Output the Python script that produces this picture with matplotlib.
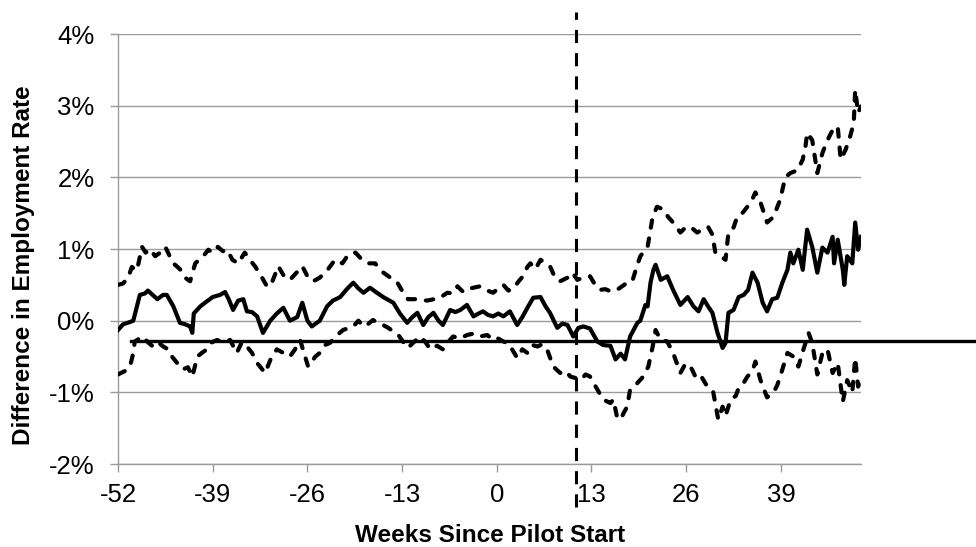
import matplotlib
matplotlib.use("Agg")
import matplotlib.pyplot as plt
from matplotlib.ticker import FuncFormatter

plt.rcParams["font.family"] = ["Liberation Sans", "DejaVu Sans"]
plt.rcParams["axes.unicode_minus"] = False

# Point estimate of the employment-rate gap (percentage points) by week
est_weeks = [-52.0, -51.3, -50.4, -49.9, -49.4, -49.0, -48.3, -47.9, -46.6, -45.8,
             -45.3, -44.4, -43.5, -42.8, -42.1, -41.8, -41.6, -40.7, -39.8, -39.0,
             -38.0, -37.3, -36.8, -36.2, -35.5, -34.8, -34.3, -33.6, -32.9, -32.1,
             -31.1, -30.2, -29.3, -28.4, -27.4, -26.7, -26.0, -25.4, -24.3, -23.3,
             -22.5, -21.5, -20.5, -19.7, -19.0, -18.3, -17.4, -16.6, -15.6, -14.2,
             -13.3, -12.3, -11.6, -10.9, -10.1, -9.4, -8.7, -8.0, -7.4, -6.4,
             -5.7, -5.0, -4.1, -3.2, -2.5, -1.9, -1.2, -0.5, 0.2, 0.9,
             1.8, 2.8, 3.5, 4.2, 5.0, 6.0, 6.7, 7.3, 8.3, 9.0,
             9.7, 10.5, 11.2, 11.9, 12.8, 13.8, 14.6, 15.6, 16.3, 17.0,
             17.6, 18.3, 19.3, 19.7, 20.4, 20.7, 21.1, 21.5, 21.8, 22.5,
             23.4, 24.2, 25.2, 26.2, 27.0, 27.7, 28.4, 29.0, 29.6, 30.3,
             31.0, 31.4, 31.8, 32.5, 33.2, 33.9, 34.5, 35.1, 35.8, 36.5,
             37.1, 37.8, 38.5, 39.2, 39.9, 40.3, 40.7, 41.4, 42.0, 42.6,
             43.3, 44.0, 44.7, 45.4, 46.1, 46.3, 46.8, 47.5, 47.7, 48.1,
             48.8, 49.2, 49.6, 50.0]
est_values = [-0.13, -0.05, -0.02, 0.00, 0.20, 0.36, 0.38, 0.42, 0.30, 0.36,
              0.36, 0.20, -0.03, -0.05, -0.08, -0.17, 0.10, 0.20, 0.27, 0.33,
              0.36, 0.40, 0.30, 0.15, 0.28, 0.30, 0.13, 0.12, 0.06, -0.17,
              0.00, 0.10, 0.18, 0.00, 0.05, 0.25, 0.00, -0.08, 0.00, 0.20,
              0.28, 0.33, 0.45, 0.53, 0.45, 0.39, 0.46, 0.40, 0.33, 0.25,
              0.10, -0.03, 0.05, 0.11, -0.06, 0.05, 0.11, 0.00, -0.06, 0.15,
              0.12, 0.15, 0.22, 0.06, 0.10, 0.13, 0.08, 0.06, 0.10, 0.06,
              0.13, -0.06, 0.05, 0.18, 0.32, 0.33, 0.20, 0.11, -0.10, -0.04,
              -0.06, -0.22, -0.10, -0.08, -0.11, -0.29, -0.34, -0.35, -0.54, -0.46,
              -0.54, -0.22, -0.03, 0.00, 0.22, 0.20, 0.53, 0.71, 0.78, 0.57,
              0.62, 0.43, 0.22, 0.33, 0.20, 0.13, 0.30, 0.20, 0.11, -0.17,
              -0.38, -0.31, 0.11, 0.15, 0.33, 0.36, 0.43, 0.67, 0.53, 0.25,
              0.13, 0.30, 0.32, 0.53, 0.71, 0.95, 0.80, 0.99, 0.71, 1.27,
              1.03, 0.67, 1.02, 0.95, 1.17, 0.80, 1.13, 0.71, 0.50, 0.90,
              0.80, 1.37, 0.99, 1.17]

# Upper confidence bound
upper_weeks = [-52.0, -51.3, -50.6, -50.1, -49.4, -48.7, -48.2, -47.6, -46.9, -46.2,
               -45.5, -44.9, -44.4, -43.5, -42.8, -42.1, -41.4, -40.3, -39.6, -39.0,
               -38.3, -37.6, -37.0, -36.3, -35.5, -34.6, -33.9, -33.2, -32.5, -31.5,
               -30.8, -30.0, -29.2, -28.4, -27.4, -26.7, -25.9, -25.2, -24.3, -23.3,
               -22.2, -21.2, -20.4, -19.4, -18.5, -17.7, -16.7, -15.7, -14.6, -13.7,
               -12.9, -12.2, -10.9, -9.6, -8.6, -7.8, -6.8, -6.1, -5.4, -4.6,
               -3.65, -2.3, -1.3, -0.5, 0.2, 0.9, 1.6, 2.3, 3.0, 3.6,
               4.2, 4.6, 5.3, 6.0, 6.7, 7.3, 8.0, 8.7, 9.7, 10.4,
               11.05, 11.9, 12.8, 13.5, 14.2, 14.9, 15.6, 16.5, 17.2, 17.9,
               18.6, 19.2, 19.7, 20.4, 20.7, 21.4, 22.0, 22.9, 23.5, 24.2,
               25.2, 25.9, 26.6, 27.5, 28.2, 29.0, 29.6, 30.0, 30.7, 31.4,
               31.8, 32.5, 33.0, 33.7, 34.4, 35.1, 35.5, 36.2, 37.1, 38.0,
               38.9, 39.6, 40.3, 41.3, 42.0, 42.4, 42.6, 43.3, 44.0, 44.7,
               45.4, 46.1, 46.8, 47.2, 47.9, 48.5, 49.0, 49.2, 49.6, 50.0]
upper_values = [0.50, 0.52, 0.60, 0.75, 0.70, 1.03, 0.95, 1.00, 0.90, 0.95,
                1.03, 0.90, 0.80, 0.72, 0.60, 0.55, 0.80, 0.90, 0.99, 0.95,
                1.03, 0.97, 0.99, 0.85, 0.80, 0.95, 0.85, 0.76, 0.65, 0.47,
                0.55, 0.76, 0.62, 0.57, 0.68, 0.76, 0.60, 0.55, 0.60, 0.70,
                0.85, 0.80, 0.92, 0.95, 0.85, 0.80, 0.80, 0.68, 0.60, 0.54,
                0.40, 0.30, 0.30, 0.28, 0.30, 0.32, 0.39, 0.38, 0.48, 0.40,
                0.45, 0.48, 0.42, 0.39, 0.45, 0.50, 0.42, 0.45, 0.55, 0.62,
                0.75, 0.80, 0.72, 0.85, 0.80, 0.76, 0.60, 0.55, 0.60, 0.67,
                0.57, 0.60, 0.62, 0.50, 0.43, 0.44, 0.41, 0.43, 0.48, 0.53,
                0.55, 0.75, 0.90, 0.99, 1.03, 1.45, 1.59, 1.55, 1.45, 1.37,
                1.23, 1.30, 1.31, 1.23, 1.27, 1.31, 1.20, 0.95, 0.90, 0.85,
                1.23, 1.30, 1.45, 1.50, 1.59, 1.70, 1.79, 1.65, 1.37, 1.45,
                1.69, 2.00, 2.06, 2.10, 2.25, 2.45, 2.62, 2.52, 2.06, 2.34,
                2.52, 2.66, 2.71, 2.25, 2.39, 2.57, 2.76, 3.22, 2.90, 2.99]

# Lower confidence bound
lower_weeks = [-52.0, -51.0, -50.35, -49.9, -49.7, -48.6, -47.9, -47.2, -46.5, -45.8,
               -45.1, -44.6, -43.8, -43.1, -42.4, -41.8, -41.1, -40.5, -39.8, -39.1,
               -38.4, -37.6, -36.6, -35.7, -35.0, -34.3, -33.6, -32.9, -31.8, -31.1,
               -30.2, -29.3, -28.4, -27.7, -27.0, -25.9, -24.9, -24.3, -23.6, -22.9,
               -21.9, -21.1, -19.7, -19.0, -18.3, -17.7, -17.0, -16.3, -15.6, -14.9,
               -14.2, -13.5, -12.9, -12.2, -11.4, -10.5, -9.8, -9.1, -8.2, -7.4,
               -6.7, -6.0, -5.0, -4.1, -3.2, -2.3, -1.3, -0.5, 0.2, 0.9,
               1.6, 2.1, 2.8, 3.5, 4.2, 4.9, 5.6, 6.2, 6.9, 7.75,
               8.7, 9.4, 10.1, 10.8, 11.5, 12.2, 12.8, 13.8, 14.6, 15.6,
               16.0, 16.5, 17.0, 17.4, 17.9, 18.3, 19.3, 20.1, 20.8, 21.4,
               21.8, 22.5, 23.4, 24.2, 25.2, 25.9, 26.6, 27.5, 28.2, 28.9,
               29.7, 30.4, 31.0, 31.4, 32.1, 32.8, 33.2, 33.7, 34.4, 35.1,
               35.5, 36.2, 37.1, 38.0, 38.5, 38.9, 39.9, 40.7, 41.4, 42.1,
               42.8, 43.3, 44.0, 44.7, 45.4, 46.1, 46.8, 47.5, 48.1, 48.8,
               49.2, 49.6, 50.0]
lower_values = [-0.75, -0.70, -0.64, -0.45, -0.29, -0.22, -0.30, -0.36, -0.30, -0.36,
                -0.40, -0.50, -0.60, -0.68, -0.65, -0.78, -0.50, -0.45, -0.40, -0.30,
                -0.27, -0.30, -0.27, -0.45, -0.30, -0.36, -0.45, -0.59, -0.73, -0.55,
                -0.40, -0.45, -0.50, -0.40, -0.27, -0.64, -0.50, -0.45, -0.34, -0.31,
                -0.20, -0.13, -0.08, 0.00, -0.08, -0.05, 0.01, -0.03, -0.06, -0.10,
                -0.15, -0.20, -0.29, -0.38, -0.30, -0.22, -0.30, -0.40, -0.35, -0.40,
                -0.30, -0.22, -0.25, -0.20, -0.18, -0.22, -0.20, -0.27, -0.25, -0.29,
                -0.32, -0.40, -0.52, -0.40, -0.45, -0.34, -0.36, -0.33, -0.40, -0.64,
                -0.73, -0.70, -0.78, -0.80, -0.83, -0.75, -0.78, -0.96, -1.10, -1.15,
                -1.10, -1.34, -1.38, -1.29, -1.20, -0.96, -0.87, -0.78, -0.64, -0.36,
                -0.13, -0.27, -0.29, -0.45, -0.73, -0.60, -0.64, -0.83, -0.80, -0.92,
                -0.99, -1.38, -1.20, -1.33, -1.10, -1.05, -0.94, -0.90, -0.78, -0.70,
                -0.57, -0.83, -1.07, -1.00, -0.90, -0.78, -0.45, -0.50, -0.64, -0.40,
                -0.17, -0.31, -0.75, -0.45, -0.40, -0.73, -0.59, -1.13, -0.83, -1.00,
                -0.52, -0.92, -0.78]

x_ticks = [-52, -39, -26, -13, 0, 13, 26, 39]
y_ticks = [-2, -1, 0, 1, 2, 3, 4]
PILOT_WEEK = 10.9      # vertical reference line
BASELINE = -0.28       # horizontal reference level
BASELINE_START = 0.0175  # axes fraction where the reference level begins

GRID = "#9b9b9b"

fig = plt.figure(figsize=(9.76, 5.47), dpi=100)
ax = fig.add_axes([0.1209, 0.1517, 0.7613, 0.7861])

ax.plot(est_weeks, est_values, color="black", lw=3.0, solid_joinstyle="round", zorder=4)
for w, v in [(upper_weeks, upper_values), (lower_weeks, lower_values)]:
    ax.plot(w, v, color="black", lw=3.0, dashes=(1.8, 2.6),
            dash_capstyle="round", zorder=4)

ax.axhline(BASELINE, xmin=BASELINE_START, xmax=1.16, color="black", lw=2.4,
           clip_on=False, zorder=3)
ax.axvline(PILOT_WEEK, ymin=-0.1, ymax=1.051, color="black", lw=2.2,
           dashes=(4.3, 3.3), clip_on=False, zorder=5)

ax.set_xlim(-52, 50)
ax.set_ylim(-2, 4)
ax.set_xticks(x_ticks)
ax.set_yticks(y_ticks)
ax.yaxis.set_major_formatter(FuncFormatter(lambda v, _: f"{v:.0f}%"))

ax.grid(axis="y", color=GRID, lw=1.0, zorder=0)
for side in ["top", "right"]:
    ax.spines[side].set_visible(False)
for side in ["left", "bottom"]:
    ax.spines[side].set_color(GRID)
    ax.spines[side].set_linewidth(1.0)

ax.tick_params(axis="both", colors=GRID, labelcolor="black", labelsize=18.5,
               length=6, width=1.0, direction="out")
ax.tick_params(axis="y", pad=11)
ax.tick_params(axis="x", pad=8)

fig.text(0.502, 0.0091, "Weeks Since Pilot Start", ha="center", va="baseline",
         fontsize=17.5, fontweight="bold")
fig.text(0.0236, 1 - 265 / 547, "Difference in Employment Rate", ha="center",
         va="center", rotation=90, fontsize=17.5, fontweight="bold")

fig.savefig("out.png", dpi=100)
